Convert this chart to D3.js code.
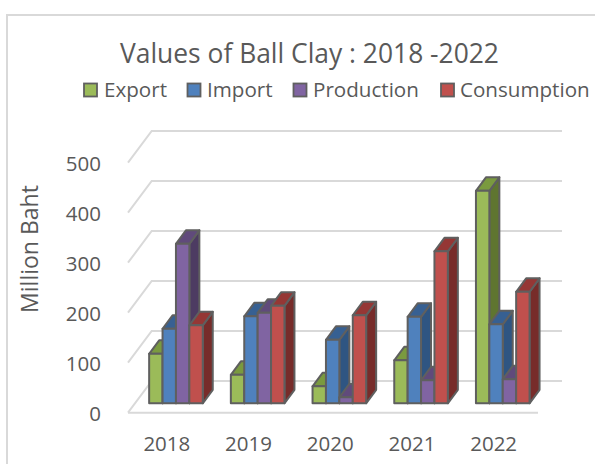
<!DOCTYPE html>
<html><head><meta charset="utf-8">
<script src="https://cdn.jsdelivr.net/npm/d3@7"></script>
<style>html,body{margin:0;padding:0;background:#fff}svg{display:block}text{font-family:"Open Sans",sans-serif;fill:#595959}</style>
</head><body><svg id="c" width="595" height="464"></svg>
<script>
const years=["2018","2019","2020","2021","2022"];
const seriesNames=["Export","Import","Production","Consumption"];
const exportVals=[99,57,34,86,425];
const importVals=[149,174,127,173,158];
const productionVals=[319,181,12,46,48];
const consumptionVals=[156,195,176,304,223];
const yTicks=[0,100,200,300,400,500];
const seriesVals=[exportVals,importVals,productionVals,consumptionVals];
const front=["#9bbb59","#4f81bd","#8064a2","#c0504d"];
const topC=["#7a9a3f","#376092","#604a7b","#953735"];
const side=["#5f7530","#2f5582","#4d3b62","#772c2a"];
const edge="#5f5f5f";

const svg=d3.select("#c");
svg.append("path").attr("d","M595,15H7V464").attr("fill","none").attr("stroke","#d9d9d9").attr("stroke-width",2);

const y=d3.scaleLinear().domain([0,500]).range([412.7,162.7]);
const x=d3.scaleBand().domain(years).range([126,534.5]);
const wallDx=23.7, wallDy=-31.7, wallRight=562;
const grid=svg.append("g").attr("fill","none").attr("stroke","#d9d9d9").attr("stroke-width",2);
yTicks.forEach(t=>{
  const yy=y(t);
  grid.append("path").attr("d",`M128,${yy}L${128+wallDx},${yy+wallDy}H${wallRight}`);
  if(t===0) grid.append("path").attr("d",`M128,${yy}H538`);
});
svg.append("g").selectAll("text").data(yTicks).join("text")
  .attr("x",101).attr("y",t=>y(t)+8.4).attr("text-anchor","end").attr("font-size",20.5).text(d=>d);
svg.append("g").selectAll("text").data(years).join("text")
  .attr("x",d=>x(d)+x.bandwidth()/2).attr("y",451).attr("text-anchor","middle").attr("font-size",20.5).text(d=>d);
svg.append("text").attr("transform","translate(38,249) rotate(-90)").attr("text-anchor","middle").attr("font-size",23).text("Million Baht");
svg.append("text").attr("x",309.5).attr("y",63).attr("text-anchor","middle").attr("font-size",26.4).text("Values of Ball Clay : 2018 -2022");

const lx=[84,187.5,293.5,441];
const tx=[104,207,313,460];
seriesNames.forEach((n,i)=>{
  svg.append("rect").attr("x",lx[i]).attr("y",83.5).attr("width",13).attr("height",13).attr("fill",front[i]).attr("stroke",edge).attr("stroke-width",1.8);
  svg.append("text").attr("x",tx[i]).attr("y",97).attr("font-size",20.6).text(n);
});

const barW=13.4, dX=10, dY=-13.5, base=403.3;
const bars=svg.append("g").attr("stroke",edge).attr("stroke-width",2).attr("stroke-linejoin","round");
const h=v=>y(0)-y(v);
years.forEach((yr,yi)=>{
  const x0=x(yr)+x.bandwidth()/2-17.7;
  seriesNames.forEach((n,si)=>{
    const v=seriesVals[si][yi];
    const l=x0+si*barW, r=l+barW, t=base-h(v);
    bars.append("path").attr("fill",side[si]).attr("d",`M${r},${base}L${r+dX},${base+dY}V${t+dY}L${r},${t}Z`);
    bars.append("path").attr("fill",topC[si]).attr("d",`M${l},${t}L${l+dX},${t+dY}H${r+dX}L${r},${t}Z`);
    bars.append("rect").attr("fill",front[si]).attr("x",l).attr("y",t).attr("width",barW).attr("height",base-t);
  });
});
</script></body></html>
